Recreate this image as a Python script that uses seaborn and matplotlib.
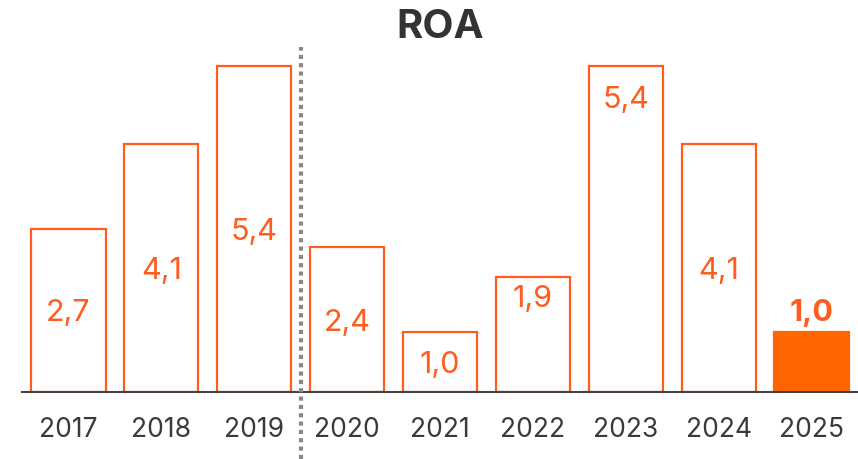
import matplotlib
matplotlib.use("Agg")
import matplotlib.pyplot as plt
import seaborn as sns

# Data
years = ["2017", "2018", "2019", "2020", "2021", "2022", "2023", "2024", "2025"]
roa = [2.7, 4.1, 5.4, 2.4, 1.0, 1.9, 5.4, 4.1, 1.0]
labels = ["2,7", "4,1", "5,4", "2,4", "1,0", "1,9", "5,4", "4,1", "1,0"]
label_at = ["mid", "mid", "mid", "mid", "mid", "top", "top2", "mid", "above"]

orange = "#FF5C1E"
fill_orange = "#FF6600"
dark = "#333333"

sns.set_style("white")
plt.rcParams["font.family"] = ["Inter", "DejaVu Sans"]

fig = plt.figure(figsize=(8.58, 4.60), dpi=100)
ax = fig.add_axes([22 / 858, 67 / 460, 836 / 858, 393 / 460])

sns.barplot(x=years, y=roa, color="white", saturation=1, edgecolor=orange,
            linewidth=1.6, width=0.8, ax=ax)

# highlight the last year
ax.patches[-1].set_facecolor(fill_orange)
ax.patches[-1].set_edgecolor(fill_orange)

ax.set_xlim(-0.5, 8.5)
ax.set_ylim(0, 6.5)

# value labels
offsets = {"top": -15, "top2": -24, "above": 14}
for i, (v, lab, pos) in enumerate(zip(roa, labels, label_at)):
    if pos == "mid":
        ax.annotate(lab, (i, v / 2), xytext=(0, -1.5), textcoords="offset points",
                    ha="center", va="center", fontsize=22, color=orange)
    else:
        ax.annotate(lab, (i, v), xytext=(0, offsets[pos]), textcoords="offset points",
                    ha="center", va="center", fontsize=22, color=orange,
                    fontweight="bold" if pos == "above" else "normal")

# separator between 2019 and 2020
ax.axvline(2.5, ymin=-67 / 393, ymax=(393 - 48) / 393, color="#888888",
           lw=3, dashes=(1, 1), clip_on=False, zorder=5)

for s in ["top", "right", "left"]:
    ax.spines[s].set_visible(False)
ax.spines["bottom"].set_color("#444444")
ax.spines["bottom"].set_linewidth(1.5)

ax.set_yticks([])
ax.set_xlabel("")
ax.set_ylabel("")
ax.tick_params(axis="x", length=0, pad=17, labelsize=19, labelcolor="#3a3a3a")

fig.text(440 / 858, 1 - 27 / 460, "ROA", ha="center", va="center",
         fontsize=29, fontweight="bold", color=dark)

fig.savefig("out.png", dpi=100)
